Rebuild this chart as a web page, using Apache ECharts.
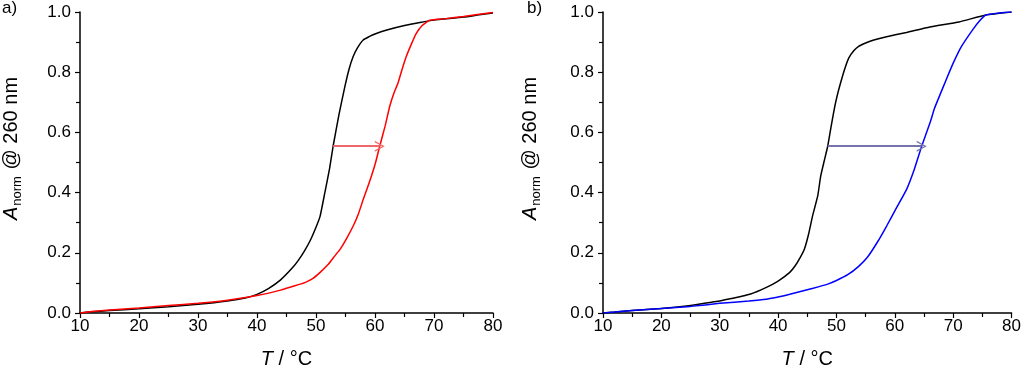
<!DOCTYPE html>
<html><head><meta charset="utf-8">
<script src="https://cdn.jsdelivr.net/npm/echarts@6/dist/echarts.min.js"></script>
<style>html,body{margin:0;padding:0;background:#fff}#c{width:1024px;height:374px}</style>
</head><body><div id="c"></div>
<script>
// Panel a)
const blackA = [[10,0],[12,0.004],[15,0.008],[20,0.014],[25,0.021],[30,0.029],[35,0.04],[38,0.05],[40,0.062],[42,0.082],[44,0.11],[46,0.15],[47,0.175],[48,0.205],[49,0.24],[50,0.285],[50.7,0.322],[51.5,0.4],[52.3,0.48],[52.9,0.554],[53.9,0.66],[54.9,0.753],[55.6,0.81],[56.3,0.852],[57,0.88],[58,0.907],[59,0.918],[60,0.927],[62,0.94],[65,0.955],[67.6,0.965],[70,0.973],[75,0.983],[78,0.992],[80,0.997]];
const redA = [[10,0],[12,0.005],[15,0.01],[20,0.017],[25,0.025],[30,0.032],[35,0.042],[40,0.058],[42,0.066],[44,0.076],[46,0.088],[48,0.1],[49.5,0.115],[50.7,0.135],[52,0.16],[53,0.185],[54.1,0.212],[55.2,0.248],[56.3,0.289],[57.2,0.33],[58,0.377],[58.7,0.415],[59.4,0.455],[60.1,0.5],[60.8,0.554],[61.7,0.62],[62.5,0.687],[63.2,0.73],[63.9,0.764],[64.6,0.81],[65.3,0.852],[66.2,0.895],[67,0.929],[68,0.955],[69.3,0.973],[72,0.978],[75,0.985],[78,0.993],[80,0.998]];
const arrowA = [[52.9,0.554],[60.8,0.554]];
// Panel b)
const blackB = [[10,0],[12,0.003],[15,0.008],[20,0.015],[25,0.025],[28.6,0.036],[30,0.04],[32,0.048],[35.3,0.063],[38,0.085],[40,0.106],[42,0.135],[42.9,0.156],[43.8,0.185],[44.5,0.212],[45.2,0.26],[45.9,0.322],[46.8,0.39],[47.3,0.455],[47.9,0.505],[48.5,0.554],[49,0.61],[49.6,0.675],[50.1,0.72],[50.7,0.764],[51.4,0.81],[52.1,0.847],[53,0.872],[53.8,0.886],[55,0.897],[56.4,0.907],[58.6,0.918],[62,0.932],[66,0.95],[71,0.967],[75.6,0.99],[80,1.0]];
const blueB = [[10,0],[12,0.003],[15,0.008],[20,0.015],[25,0.022],[30,0.032],[35,0.04],[38,0.046],[40,0.053],[42,0.062],[44,0.072],[46,0.082],[48.5,0.096],[50,0.108],[52,0.128],[53.8,0.155],[55.3,0.185],[57,0.235],[58.6,0.289],[60.3,0.35],[62,0.41],[63.3,0.475],[64.6,0.554],[66,0.63],[66.8,0.68],[67.4,0.709],[68.8,0.775],[70,0.83],[71.4,0.885],[73.3,0.94],[74.5,0.97],[75.6,0.99],[78,0.997],[80,1.0]];
const arrowB = [[48.5,0.554],[64.6,0.554]];
const panelLabels = ['a)', 'b)'];
const xName = '{i|T} / °C';
const yName = '{i|A}{s|norm} @ 260 nm';

const FONT = 'Liberation Sans, Arial, sans-serif';
const chev = 'path://M0,12 L6,0 L12,12 L10.4,12 L6,3 L1.6,12 Z';

function xAxis(i){
  return {type:'value', gridIndex:i, min:10, max:80, interval:10,
    name:xName, nameLocation:'middle', nameGap:36,
    nameTextStyle:{fontSize:20, color:'#000', fontFamily:FONT, rich:{i:{fontStyle:'italic', fontSize:20, fontFamily:FONT}}},
    axisLine:{show:true, lineStyle:{color:'#000', width:1.5}},
    axisTick:{show:true, inside:false, length:5, lineStyle:{color:'#000', width:1.2}},
    minorTick:{show:true, splitNumber:2, length:4, lineStyle:{color:'#000', width:1.2}},
    axisLabel:{fontSize:17, color:'#000', fontFamily:FONT, margin:5},
    splitLine:{show:false}};
}
function yAxis(i, gap){
  return {type:'value', gridIndex:i, min:0, max:1, interval:0.2,
    name:yName, nameLocation:'middle', nameGap:gap, nameRotate:90,
    nameTextStyle:{fontSize:20, color:'#000', fontFamily:FONT, padding:[0,0,0,28],
      rich:{i:{fontStyle:'italic', fontSize:20, fontFamily:FONT}, s:{fontSize:13, fontFamily:FONT, padding:[12,1,0,1]}}},
    axisLine:{show:true, lineStyle:{color:'#000', width:1.5}},
    axisTick:{show:true, inside:false, length:5, lineStyle:{color:'#000', width:1.2}},
    minorTick:{show:true, splitNumber:2, length:4, lineStyle:{color:'#000', width:1.2}},
    axisLabel:{fontSize:17, color:'#000', fontFamily:FONT, margin:9, formatter:v=>v.toFixed(1)},
    splitLine:{show:false}};
}
function curve(i, data, color){
  return {type:'line', xAxisIndex:i, yAxisIndex:i, data:data, showSymbol:false, smooth:0.15,
    lineStyle:{color:color, width:1.5}, z:3, silent:true};
}
function arrow(i, pts, color){
  return {type:'line', xAxisIndex:i, yAxisIndex:i, data:[], silent:true,
    markLine:{silent:true, animation:false, symbol:['none', chev], symbolSize:[11,10],
      lineStyle:{color:color, width:1.8, type:'solid'}, label:{show:false},
      data:[[{coord:pts[0]},{coord:pts[1]}]]}};
}
const chart = echarts.init(document.getElementById('c'), null, {renderer:'canvas'});
chart.setOption({
  animation:false,
  grid:[{left:80, right:531, top:12, bottom:60},{left:603, right:8, top:12, bottom:60}],
  xAxis:[xAxis(0), xAxis(1)],
  yAxis:[yAxis(0, 56), yAxis(1, 60)],
  graphic:[
    {type:'text', left:2, top:0, style:{text:panelLabels[0], font:'17px '+FONT, fill:'#000'}},
    {type:'text', left:527, top:0, style:{text:panelLabels[1], font:'17px '+FONT, fill:'#000'}}
  ],
  series:[
    curve(0, blackA, '#000'), curve(0, redA, '#ff0000'), arrow(0, arrowA, '#ee6a6a'),
    curve(1, blackB, '#000'), curve(1, blueB, '#0000ff'), arrow(1, arrowB, '#7474aa')
  ]
});
</script></body></html>
